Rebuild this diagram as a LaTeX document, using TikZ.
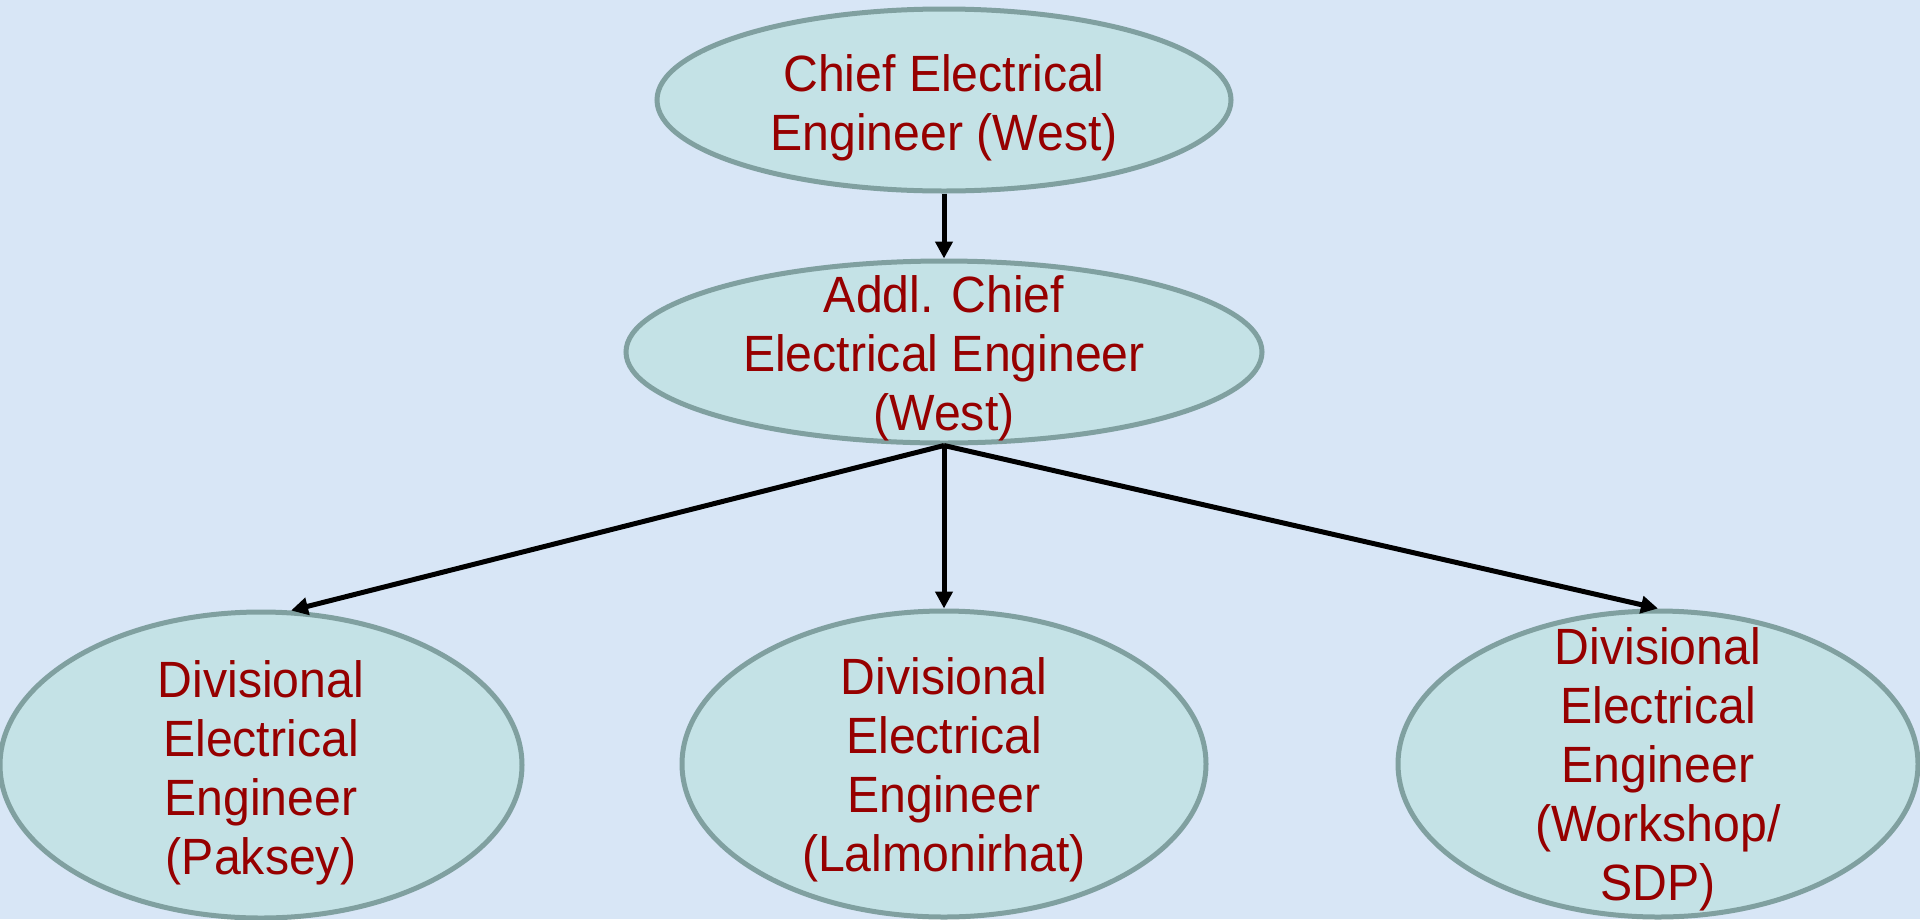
\documentclass[tikz,border=0pt]{standalone}
\usepackage{fontspec}
\setmainfont[FakeStretch=0.945]{Liberation Sans}
\usetikzlibrary{shapes.geometric,arrows.meta}
\definecolor{bgblue}{RGB}{216,230,246}
\definecolor{ellfill}{RGB}{196,226,230}
\definecolor{elldraw}{RGB}{128,160,160}
\definecolor{txtred}{RGB}{150,0,0}
\tikzset{
  oval/.style={ellipse, draw=elldraw, fill=ellfill, line width=5pt, inner sep=0pt},
  lbl/.style={text=txtred, align=center, font=\fontsize{51pt}{59pt}\selectfont, inner sep=0pt},
  conn/.style={draw=black, line width=5pt, -{Triangle[length=17pt,width=17pt]}}
}
\begin{document}
\begin{tikzpicture}[x=1pt,y=-1pt]
\fill[bgblue] (0,0) rectangle (1920,919);
\useasboundingbox (0,0) rectangle (1920,919);
\node[oval, minimum width=574pt, minimum height=182pt] (ce) at (944,100) {};
\node[oval, minimum width=636pt, minimum height=182pt] (ace) at (944,352) {};
\node[oval, minimum width=522pt, minimum height=306pt] (dl) at (261,765) {};
\node[oval, minimum width=524pt, minimum height=306pt] (dm) at (944,764) {};
\node[oval, minimum width=520pt, minimum height=306pt] (dr) at (1658,764) {};
\node[lbl] (tce) at ([yshift=-8pt]ce.center) {Chief Electrical\\Engineer (West)};
\node[lbl] (tace) at ([yshift=-6.5pt]ace.center) {Addl. Chief\\Electrical Engineer\\(West)};
\node[lbl] (tdl) at ([yshift=-8pt]dl.center) {Divisional\\Electrical\\Engineer\\(Paksey)};
\node[lbl] (tdm) at ([yshift=-6pt]dm.center) {Divisional\\Electrical\\Engineer\\(Lalmonirhat)};
\node[lbl] (tdr) at ([yshift=-5pt]dr.center) {Divisional\\Electrical\\Engineer\\(Workshop/\\SDP)};
\draw[conn] (ce.south) -- (ace.north);
\draw[conn] (ace.south) -- (dl.79);
\draw[conn] (ace.south) -- (dm.north);
\draw[conn] (ace.south) -- (dr.north);
\end{tikzpicture}
\end{document}
